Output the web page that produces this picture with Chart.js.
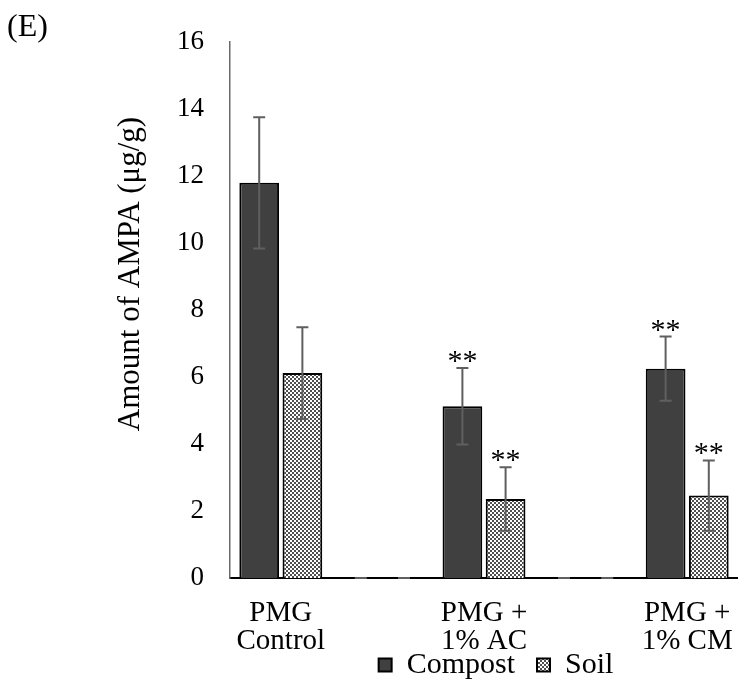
<!DOCTYPE html>
<html>
<head>
<meta charset="utf-8">
<script src="https://cdn.jsdelivr.net/npm/chart.js@4"></script>
<style>
    html, body { margin: 0; padding: 0; background: #fff; overflow: hidden; }
    #wrap { width: 738px; height: 698px; position: relative; }
</style>
</head>
<body>
<div id="wrap"><canvas id="ampaCanvas"></canvas></div>
<script>
// Categories (empty ones are the spacer groups Excel left between treatments)
const categories = [['PMG', 'Control'], '', ['PMG +', '1% AC'], '', ['PMG +', '1% CM']];

// Amount of AMPA (µg/g)
const compostValues = [11.8, 0, 5.13, 0, 6.25];
const compostErrors = [1.96, 0, 1.14, 0, 0.96];
const soilValues = [6.12, 0, 2.36, 0, 2.46];
const soilErrors = [1.37, 0, 0.95, 0, 1.05];

// Significance marks drawn above the error bars
const compostMarks = ['', '', '**', '', '**'];
const soilMarks = ['', '', '**', '', '**'];

const yMin = 0;
const yMax = 16;
const yStep = 2;

const serif = "'Liberation Serif', 'Times New Roman', serif";

// Checkered fill used by the Soil series
function makeChecker() {
    const c = document.createElement('canvas');
    c.width = 4;
    c.height = 4;
    const g = c.getContext('2d');
    g.fillStyle = '#ffffff';
    g.fillRect(0, 0, 4, 4);
    g.fillStyle = '#505050';
    g.fillRect(0, 0, 2, 2);
    g.fillRect(2, 2, 2, 2);
    return g.createPattern(c, 'repeat');
}

// Draws error bars and the ** marks for every bar
const errorBarPlugin = {
    id: 'errorBars',
    afterDatasetsDraw(chart) {
        const ctx = chart.ctx;
        const yScale = chart.scales.y;
        ctx.save();
        chart.data.datasets.forEach((ds, i) => {
            const meta = chart.getDatasetMeta(i);
            meta.data.forEach((bar, j) => {
                const v = ds.data[j];
                const e = ds.errors[j];
                const x = bar.x;
                const top = yScale.getPixelForValue(v + e);
                const bot = yScale.getPixelForValue(Math.max(v - e, 0));
                ctx.strokeStyle = '#5f5f5f';
                ctx.lineWidth = 2;
                ctx.beginPath();
                ctx.moveTo(x, top);
                ctx.lineTo(x, bot);
                ctx.moveTo(x - 6, top);
                ctx.lineTo(x + 6, top);
                ctx.moveTo(x - 6, bot);
                ctx.lineTo(x + 6, bot);
                ctx.stroke();

                const mark = ds.marks[j];
                if (mark) {
                    ctx.fillStyle = '#000';
                    ctx.font = '30px ' + serif;
                    ctx.textAlign = 'center';
                    ctx.textBaseline = 'alphabetic';
                    ctx.fillText('*', x - 7.5, top + 2);
                    ctx.fillText('*', x + 7.5, top + 2);
                }
            });
        });
        ctx.restore();
    }
};

// Panel letter and the y axis title
const annotationPlugin = {
    id: 'panelText',
    afterLayout(chart) {
        // Excel centred its legend a little right of the plot centre
        if (chart.legend) {
            chart.legend.left += 12;
            chart.legend.right += 12;
        }
    },
    afterDraw(chart) {
        const ctx = chart.ctx;
        ctx.save();
        ctx.fillStyle = '#000';
        ctx.font = '32px ' + serif;
        ctx.textAlign = 'left';
        ctx.textBaseline = 'middle';
        ctx.fillText('(E)', 7, 28);

        ctx.translate(131, 274);
        ctx.rotate(-Math.PI / 2);
        ctx.font = '31px ' + serif;
        ctx.textAlign = 'center';
        ctx.fillText('Amount of AMPA (μg/g)', 0, 0);
        ctx.restore();
    }
};

function initializeChart() {
    const canvas = document.getElementById('ampaCanvas');
    if (!canvas) {
        console.error('Canvas element not found');
        return;
    }
    const ctx = canvas.getContext('2d');

    new Chart(ctx, {
        type: 'bar',
        data: {
            labels: categories,
            datasets: [
                {
                    label: 'Compost',
                    data: compostValues,
                    errors: compostErrors,
                    marks: compostMarks,
                    backgroundColor: '#404040',
                    borderColor: '#000000',
                    borderWidth: 2,
                    categoryPercentage: 0.85,
                    barPercentage: 0.92
                },
                {
                    label: 'Soil',
                    data: soilValues,
                    errors: soilErrors,
                    marks: soilMarks,
                    backgroundColor: makeChecker(),
                    borderColor: '#000000',
                    borderWidth: 2,
                    categoryPercentage: 0.85,
                    barPercentage: 0.92
                }
            ]
        },
        options: {
            responsive: true,
            maintainAspectRatio: false,
            animation: false,
            devicePixelRatio: 1,
            layout: {
                padding: { top: 39, right: 0, bottom: 8, left: 0 }
            },
            scales: {
                x: {
                    grid: { display: false, drawTicks: false },
                    border: { color: '#000000', width: 2 },
                    ticks: {
                        color: '#000',
                        font: { family: serif, size: 29, lineHeight: 0.95 },
                        padding: 22,
                        maxRotation: 0,
                        autoSkip: false
                    },
                    afterFit: (scale) => {
                        scale.height = 50;
                        scale.paddingLeft = 0;
                        scale.paddingRight = 0;
                        // let the two-line labels run into the legend band as in the original
                        scale._computeLabelArea = () => undefined;
                    }
                },
                y: {
                    min: yMin,
                    max: yMax,
                    grid: { display: false, drawTicks: false },
                    border: { color: '#6a6a6a', width: 1.5 },
                    ticks: {
                        stepSize: yStep,
                        color: '#000',
                        font: { family: serif, size: 27 },
                        padding: 26
                    },
                    afterFit: (scale) => { scale.width = 230; }
                }
            },
            plugins: {
                legend: {
                    position: 'bottom',
                    fullSize: false,
                    labels: {
                        color: '#000',
                        font: { family: serif, size: 30 },
                        boxWidth: 13,
                        boxHeight: 13,
                        padding: 22
                    }
                },
                tooltip: { enabled: false }
            }
        },
        plugins: [errorBarPlugin, annotationPlugin]
    });
}

document.addEventListener('DOMContentLoaded', initializeChart);
</script>
</body>
</html>
